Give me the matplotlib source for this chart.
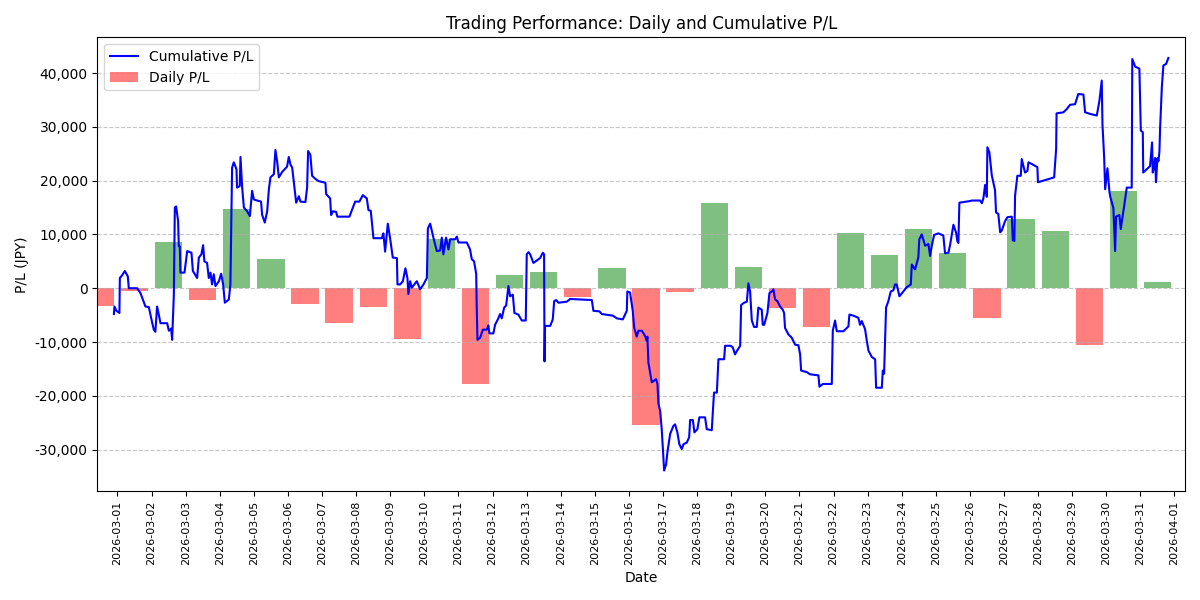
import matplotlib
matplotlib.use("Agg")
import matplotlib.pyplot as plt
import matplotlib.dates as mdates
import matplotlib.ticker as mticker
import pandas as pd

# daily P/L (one bar per day, 2026-02-28 .. 2026-03-31)
day_start = "2026-02-28"
daily_pl = [-3300, -450, 8600, -2200, 14700, 5400, -2900, -6500, -3500, -9400,
            9200, -17800, 2400, 3000, -1700, 3700, -25500, -650, 15800, 4000,
            -3650, -7250, 10250, 6150, 10950, 6550, -5550, 12800, 10600, -10600,
            18000, 1100]

# cumulative P/L per trade: hours since 2026-03-01 00:00, value in JPY
trade_hours = [
    -2.5, -2.1, -0.7, 1.4, 1.7, 3.3, 5.2, 7.3, 8.0, 13.9, 16.2, 19.7, 22.1, 23.7,
    25.6, 26.7, 27.9, 29.1, 30.3, 35.0, 36.2, 37.8, 38.5, 39.7, 40.4, 41.3, 42.7,
    43.2, 43.9, 44.3, 47.2, 49.1, 52.1, 53.1, 56.1, 57.3, 59.1, 60.3, 61.2, 63.1,
    64.3, 65.5, 66.6, 67.8, 69.0, 71.4, 73.0, 74.4, 75.6, 78.4, 79.5, 80.7, 81.9,
    83.8, 84.2, 86.1, 86.6, 87.8, 89.0, 91.3, 93.2, 94.8, 96.0, 98.3, 101.1,
    101.8, 103.7, 105.4, 106.6, 107.7, 110.1, 111.2, 112.4, 113.6, 115.9, 119.4,
    120.6, 121.8, 123.0, 124.6, 125.8, 127.7, 128.8, 132.3, 133.5, 134.2, 135.8,
    137.0, 139.4, 141.7, 146.4, 146.9, 149.7, 150.4, 151.6, 153.9, 154.8, 163.3,
    167.3, 170.3, 172.7, 175.5, 176.7, 178.3, 180.2, 186.1, 187.2, 188.4, 190.3,
    191.9, 193.8, 196.7, 197.1, 199.0, 200.9, 202.7, 204.1, 204.8, 206.0, 207.2,
    210.7, 213.1, 215.4, 217.8, 218.5, 220.1, 222.4, 224.8, 227.1, 228.3, 229.4,
    231.3, 233.0, 234.2, 237.7, 238.9, 240.0, 245.9, 248.2, 249.4, 251.0, 252.5,
    252.9, 253.4, 255.3, 257.2, 260.0, 261.1, 261.8, 264.6, 265.8, 268.1, 269.3,
    270.5, 272.2, 273.6, 275.2, 276.4, 278.3, 279.4, 282.2, 284.6, 287.4, 288.1,
    289.3, 290.5, 292.8, 297.5, 299.4, 300.3, 300.6, 301.0, 302.2, 304.6, 306.4,
    307.4, 308.8, 310.4, 316.3, 318.6, 333.9, 335.0, 339.2, 340.9, 348.7, 351.5,
    355.7, 358.5, 358.9, 360.8, 362.7, 363.7, 365.5, 366.7, 369.1, 371.4, 372.6,
    373.0, 373.7, 376.1, 379.1, 380.1, 380.8, 382.0, 383.1, 384.8, 386.2, 387.1,
    389.0, 391.3, 392.5, 394.1, 395.5, 397.2, 398.4, 400.7, 402.4, 403.1, 405.0,
    406.1, 408.2, 409.6, 413.6, 414.8, 418.3, 419.9, 421.9, 423.0, 427.0, 427.7,
    431.7, 433.1, 434.7, 435.9, 438.3, 439.0, 441.1, 443.0, 444.1, 445.3, 446.5,
    448.1, 450.0, 451.1, 453.5, 454.2, 455.2, 457.5, 458.9, 460.6, 461.7, 462.9,
    464.5, 466.4, 468.3, 469.2, 469.9, 472.3, 474.6, 477.0, 479.3, 480.5, 481.2,
    485.2, 487.5, 493.4, 494.1, 496.5, 502.8, 503.5, 505.1, 506.3, 511.0, 514.5,
    515.2, 518.0, 521.5, 522.7, 523.9, 526.2, 527.4, 528.6, 531.0, 533.3, 534.0,
    538.0, 538.7, 539.6, 541.0, 542.6, 544.3, 546.1, 547.3, 548.5, 550.4, 553.2,
    555.6, 558.4, 559.1, 561.4, 563.7, 564.4, 566.1, 568.5, 570.8, 572.0, 573.2,
    574.8, 577.8, 581.3, 582.5, 584.9, 586.1, 588.4, 590.3, 591.2, 591.9, 592.6,
    600.1, 601.3, 607.2, 608.4, 609.5, 610.7, 611.9, 612.3, 613.7, 615.4, 616.5,
    617.7, 618.4, 620.0, 621.3, 622.4, 624.8, 626.4, 629.5, 630.2, 631.3, 631.8,
    633.4, 635.8, 636.5, 637.6, 638.8, 640.5, 641.2, 643.5, 647.5, 647.9, 659.3,
    660.7, 661.0, 665.8, 668.2, 670.5, 674.0, 676.3, 679.9, 681.1, 684.6, 689.3,
    691.2, 692.8, 693.3, 694.5, 695.2, 696.8, 698.2, 698.7, 701.0, 702.2, 702.9,
    705.2, 706.2, 707.6, 708.5, 710.4, 713.9, 714.3, 716.3, 719.3, 720.3, 721.7,
    722.0, 726.8, 728.2, 728.7, 729.6, 730.3, 731.0, 732.0, 732.7, 733.4, 733.9,
    735.1, 736.2, 738.1, 739.7,
]
cum_pl = [
    -4800, -3400, -4200, -4600, 1900, 2400, 3200, 2200, 0, 0, -900, -3400, -3500,
    -5500, -7700, -8100, -3400, -4900, -6500, -6500, -7900, -7500, -9600, -1200,
    15000, 15200, 12500, 7800, 7800, 2900, 2900, 6900, 6600, 3200, 1900, 5700,
    6300, 8000, 5000, 4700, 1900, 2900, 700, 2600, 400, 1300, 2700, 700, -2700,
    -2100, 700, 22400, 23400, 22100, 18700, 19000, 24400, 18700, 15000, 14300,
    13400, 18100, 16500, 16300, 16100, 13700, 12200, 14300, 18400, 20600, 21200,
    25700, 23600, 20600, 21600, 22600, 24400, 23000, 22400, 18700, 15900, 17100,
    16100, 16000, 18700, 25500, 24800, 20900, 20300, 19900, 19600, 17500, 16700,
    13600, 14300, 14200, 13300, 13300, 16100, 16100, 17300, 16700, 14500, 14400,
    9300, 9300, 10200, 6800, 12000, 9300, 5700, 5600, 700, 700, 1300, 3700, 1900,
    -1100, 1300, 100, 1300, -200, 700, 1900, 11100, 12000, 9400, 6900, 7000, 9400,
    6300, 9400, 7200, 9100, 9100, 9600, 8500, 8500, 7200, 5400, 5000, 2700, -3700,
    -9600, -9200, -7700, -7700, -6900, -8400, -8400, -6800, -5600, -4800, -5600,
    -3600, -3200, 400, -1500, -1200, -4600, -4900, -6000, -6000, 6300, 6700, 6300,
    4700, 5600, 6600, 6300, -13600, -7000, -7000, -7000, -5800, -2400, -2200,
    -2700, -2500, -2000, -2200, -4200, -4300, -4800, -5100, -5600, -5800, -4200,
    -600, -800, -4200, -7300, -9000, -7900, -7900, -8900, -9800, -9000, -13800,
    -17500, -16900, -17800, -21500, -22800, -26200, -33900, -32700, -30500,
    -27100, -25600, -25300, -26800, -29000, -29900, -29000, -28700, -27700,
    -24500, -24500, -26800, -26200, -24000, -24000, -26200, -26400, -19400,
    -19400, -13200, -13200, -10700, -10700, -11000, -12300, -11700, -10700, -3100,
    -2700, -2500, 900, -600, -6000, -7200, -7200, -3600, -4000, -6800, -6800,
    -4600, -900, -600, -200, -2100, -2400, -3400, -4000, -4600, -7400, -8600,
    -9200, -10500, -10600, -12300, -15300, -15600, -16000, -16200, -18300, -17800,
    -17800, -7900, -6000, -8000, -8000, -7100, -4900, -5100, -5500, -6800, -6100,
    -7600, -9700, -11600, -12800, -13200, -18500, -18500, -15300, -15900, -3600,
    -2400, -600, -400, 700, 700, -1500, -600, 200, 700, 4400, 3500, 5700, 9100,
    10000, 7900, 8200, 6000, 7900, 9900, 10200, 9800, 6500, 6600, 8100, 11800,
    10300, 8700, 8400, 15900, 16200, 16300, 16300, 15800, 16700, 19200, 17000,
    26200, 25300, 21000, 19700, 18200, 14100, 13800, 10400, 10700, 12500, 13200,
    13300, 8900, 8800, 17200, 20900, 20900, 24000, 22800, 21500, 21800, 23400,
    23100, 22500, 19700, 20600, 25900, 32500, 32700, 33300, 34100, 34200, 36100,
    36000, 32700, 32400, 32100, 34900, 38600, 30500, 24300, 18400, 22300, 18000,
    17100, 14900, 6900, 13300, 13600, 11000, 13600, 15100, 18700, 18700, 42600,
    41200, 40800, 29300, 29000, 21500, 22700, 27100, 21500, 22700, 24200, 19700,
    24200, 23600, 25400, 29900, 37400, 41400, 41700, 42800,
]

start = pd.Timestamp("2026-03-01")
trade_times = start + pd.to_timedelta(trade_hours, unit="h")
bar_dates = pd.date_range(day_start, periods=len(daily_pl), freq="D") + pd.Timedelta(hours=12)
bar_colors = ["green" if v >= 0 else "red" for v in daily_pl]

fig, ax = plt.subplots(figsize=(12, 6), dpi=100)

ax.bar(bar_dates, daily_pl, width=0.8, color=bar_colors, alpha=0.5, label="Daily P/L")
ax.plot(trade_times, cum_pl, color="blue", linewidth=1.5, label="Cumulative P/L")

ax.set_title("Trading Performance: Daily and Cumulative P/L")
ax.set_xlabel("Date")
ax.set_ylabel("P/L (JPY)")
ax.grid(axis="y", linestyle="--", alpha=0.7)
ax.legend(loc="upper left")

ax.xaxis.set_major_locator(mdates.DayLocator())
ax.xaxis.set_major_formatter(mdates.DateFormatter("%Y-%m-%d"))
ax.set_xlim(start - pd.Timedelta(hours=14.1), start + pd.Timedelta(hours=751.4))
plt.setp(ax.get_xticklabels(), rotation=90, fontsize=8)
ax.yaxis.set_major_formatter(mticker.FuncFormatter(lambda v, p: f"{v:,.0f}"))

plt.tight_layout()
plt.savefig("out.png")
